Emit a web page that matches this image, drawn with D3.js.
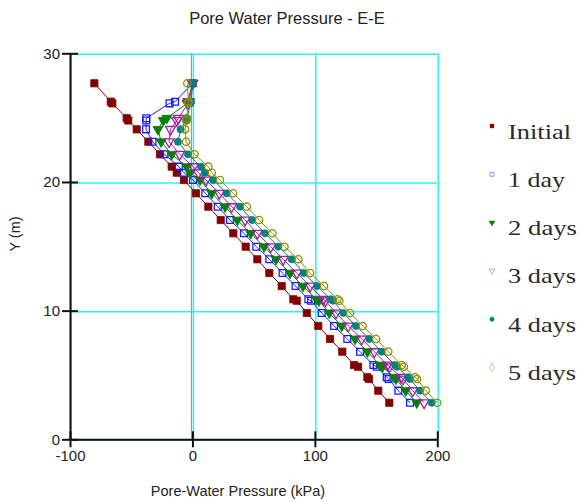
<!DOCTYPE html>
<html>
<head>
<meta charset="utf-8">
<script src="https://cdn.jsdelivr.net/npm/d3@7"></script>
<style>
  body { margin: 0; background: #fff; }
  svg { display: block; }
</style>
</head>
<body>
<svg id="canvas"></svg>
<script>
// node elevations (m), shared by all series
let yLevels=[27.67,26.24,26.11,24.95,24.78,24.09,23.13,22.15,21.19,20.72,20.15,19.12,18.08,17.04,16.01,14.97,13.99,12.92,11.91,10.88,10.77,9.82,8.81,7.80,6.81,5.77,5.64,4.82,4.69,3.78,2.84];

// pore-water pressure (kPa) per node
let initial=[-80.1,-66.7,-65.4,-53.7,-52.4,-45.5,-36.0,-26.5,-16.9,-12.8,-6.9,2.9,13.0,23.1,33.4,43.5,53.0,62.8,72.9,82.4,85.2,93.4,102.8,112.4,122.4,132.0,135.3,142.9,144.2,151.8,160.8];
let day1=[0.2,-14.2,-18.7,-37.7,-37.7,-37.9,-32.6,-22.8,-11.1,-6.9,0.5,10.5,20.7,30.7,42.1,52.2,62.8,73.6,84.2,94.7,96.9,105.6,115.7,126.5,136.9,147.8,150.5,158.7,160.2,168.2,177.7];
let day2=[0.1,-3.8,-4.4,-21.0,-23.8,-28.1,-25.6,-16.9,-4.7,-2.0,6.2,15.8,26.6,36.7,47.6,58.5,68.3,79.7,90.3,101.5,103.4,111.8,121.9,132.8,142.9,153.2,155.3,164.9,166.3,174.2,183.2];
let day3=[0.2,-2.8,-3.6,-11.5,-12.8,-17.9,-19.1,-10.5,0.7,4.8,11.1,22.0,32.1,43.0,53.0,64.0,74.2,85.2,96.1,106.9,108.7,117.3,127.3,138.3,148.6,159.2,161.0,170.4,172.0,179.9,189.2];
let day4=[0.2,-1.1,-1.6,-4.4,-5.2,-9.7,-11.8,-3.6,7.0,10.3,17.1,28.0,38.9,48.9,59.3,70.2,81.1,90.9,101.8,113.0,114.8,123.3,133.6,144.5,154.6,165.5,167.1,176.3,177.7,185.9,195.5];
let day5=[-4.2,-3.2,-3.6,-4.7,-4.8,-6.0,-5.2,1.7,13.0,15.8,22.5,33.2,44.4,54.4,65.3,75.2,86.5,96.1,107.5,118.5,120.0,128.7,139.1,150.0,160.0,171.0,172.8,181.8,183.5,190.6,200.0];

let seriesNames=["Initial","1 day","2 days","3 days","4 days","5 days"];
let seriesValues=[initial,day1,day2,day3,day4,day5];

let xTicks=[-100,0,100,200];
let yTicks=[0,10,20,30];

let width=579;
let height=502;

let sans="'Liberation Sans', Arial, sans-serif";
let serif="'Liberation Serif', 'Times New Roman', serif";

let styles=[
  {color:"#800000",symbol:d3.symbolSquare,size:52,fill:true,legendText:63},
  {color:"#1a1aff",symbol:d3.symbolSquare,size:46,fill:false,legendText:57},
  {color:"#008000",symbol:d3.symbolTriangle,size:44,fill:true,flip:true,legendText:69},
  {color:"#a020a0",symbol:d3.symbolTriangle,size:44,fill:false,flip:true,legendText:68},
  {color:"#008080",symbol:d3.symbolCircle,size:40,fill:true,legendText:68},
  {color:"#8f8f00",symbol:d3.symbolCircle,size:42,fill:false,legendDiamond:true,legendText:68}
];

let canvas=d3.select("#canvas").attr("width",width).attr("height",height);

let xscale=d3.scaleLinear().domain([-100,200]).range([70,437.3]);
let yscale=d3.scaleLinear().domain([0,30]).range([439.3,53.3]);

// grid
let grid=canvas.append("g");
grid.selectAll(".hgrid").data(yTicks).enter().append("line")
  .attr("x1",xscale(-100)).attr("x2",xscale(200))
  .attr("y1",d=>yscale(d)+1).attr("y2",d=>yscale(d)+1)
  .attr("stroke","#2ef2f2").attr("stroke-width",1.5);
grid.selectAll(".vgrid").data(xTicks).enter().append("line")
  .attr("x1",d=>xscale(d)+1).attr("x2",d=>xscale(d)+1)
  .attr("y1",yscale(30)).attr("y2",yscale(0))
  .attr("stroke","#2ef2f2").attr("stroke-width",1.5);
// zero line
grid.append("line")
  .attr("x1",xscale(0)-1).attr("x2",xscale(0)-1)
  .attr("y1",yscale(30)).attr("y2",yscale(0))
  .attr("stroke","#999").attr("stroke-width",1.2);

// series
seriesValues.forEach((vals,i)=>{
  let st=styles[i];
  let pts=vals.map((v,j)=>[v,yLevels[j]]);
  let line=d3.line().x(d=>xscale(d[0])).y(d=>yscale(d[1]));
  let g=canvas.append("g");
  g.append("path").datum(pts).attr("d",line)
    .attr("fill","none").attr("stroke",st.color).attr("stroke-width",1);
  g.selectAll("path.mark").data(pts).enter().append("path")
    .attr("class","mark")
    .attr("d",d3.symbol().type(st.symbol).size(st.size))
    .attr("transform",d=>"translate("+xscale(d[0])+","+yscale(d[1])+")"+(st.flip?" rotate(180)":""))
    .attr("fill",st.fill?st.color:"none")
    .attr("stroke",st.color)
    .attr("stroke-width",st.fill?0.8:1.3);
});

// axes
let xAxis=d3.axisBottom(xscale).tickValues(xTicks).tickFormat(d=>String(d)).tickSize(8).tickSizeOuter(0).tickPadding(3);
let xg=canvas.append("g").attr("transform","translate(0,"+yscale(0)+")").call(xAxis);
xg.selectAll(".tick line").attr("y1",-8).attr("stroke","#111").attr("stroke-width",2);
xg.select(".domain").attr("stroke","#111").attr("stroke-width",2);
xg.selectAll(".tick text").style("font-size","15px").style("font-family",sans).attr("fill","#222");

let yAxis=d3.axisLeft(yscale).tickValues(yTicks).tickFormat(d=>String(d)).tickSize(8).tickSizeOuter(0).tickPadding(2);
let yg=canvas.append("g").attr("transform","translate("+xscale(-100)+",0)").call(yAxis);
yg.selectAll(".tick line").attr("x1",8).attr("stroke","#111").attr("stroke-width",2);
yg.select(".domain").attr("stroke","#111").attr("stroke-width",2);
yg.selectAll(".tick text").style("font-size","15px").style("font-family",sans).attr("fill","#222");

// titles
canvas.append("text").attr("x",287).attr("y",24).attr("text-anchor","middle")
  .style("font-family",sans).style("font-size","16.5px").attr("fill","#222")
  .text("Pore Water Pressure - E-E");
canvas.append("text").attr("x",238).attr("y",496).attr("text-anchor","middle")
  .style("font-family",sans).style("font-size","14.5px").attr("fill","#222")
  .text("Pore-Water Pressure (kPa)");
canvas.append("text").attr("transform","translate(20,234) rotate(-90)").attr("text-anchor","middle")
  .style("font-family",sans).style("font-size","14.5px").attr("fill","#222")
  .text("Y (m)");

// legend
let legend=canvas.append("g");
seriesNames.forEach((name,i)=>{
  let st=styles[i];
  let ly=126+i*48.3;
  let sym=st.legendDiamond?d3.symbolDiamond:st.symbol;
  legend.append("path")
    .attr("d",d3.symbol().type(sym).size(st.legendDiamond?20:15))
    .attr("transform","translate(492,"+ly+")"+(st.flip?" rotate(180)":""))
    .attr("fill",st.fill?st.color:"none")
    .attr("stroke",st.color).attr("stroke-opacity",st.fill?1:0.45)
    .attr("stroke-width",st.fill?0.4:1);
  legend.append("text").attr("x",508).attr("y",ly+12.5)
    .style("font-family",serif).style("font-size","21px").attr("fill","#2a2a2a")
    .attr("textLength",st.legendText).attr("lengthAdjust","spacingAndGlyphs")
    .text(name);
});
</script>
</body>
</html>
